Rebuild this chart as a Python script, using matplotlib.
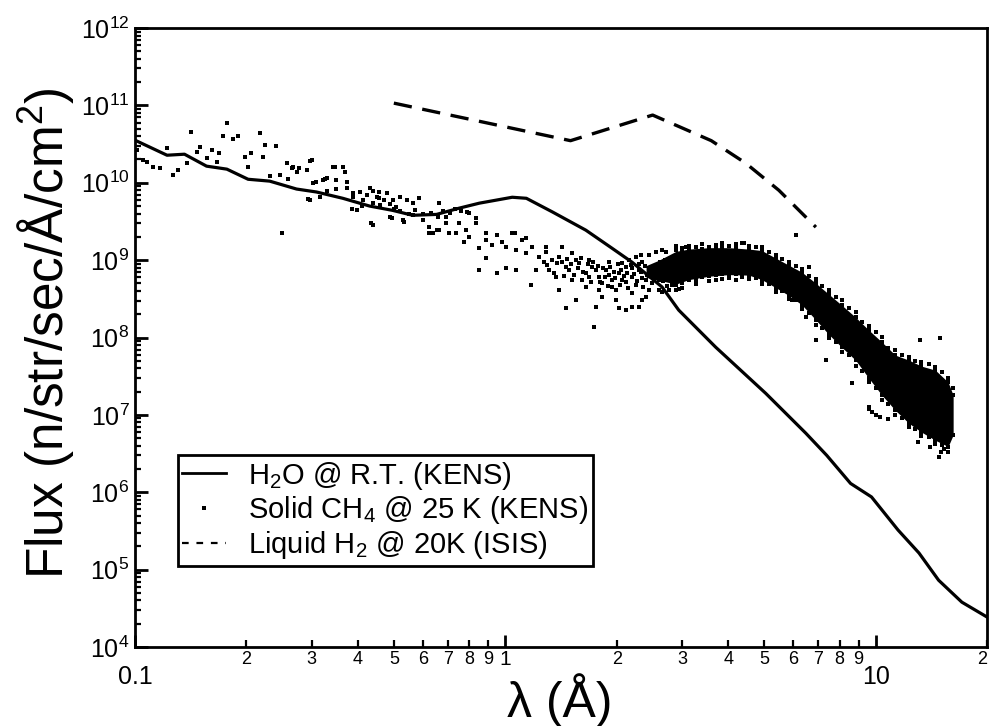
import matplotlib
matplotlib.use('Agg')
import matplotlib.pyplot as plt
from matplotlib.lines import Line2D

plt.rcParams['font.family'] = ['Liberation Sans', 'DejaVu Sans']
plt.rcParams['mathtext.fontset'] = 'custom'
plt.rcParams['mathtext.rm'] = 'Liberation Sans'
plt.rcParams['mathtext.it'] = 'Liberation Sans:italic'
plt.rcParams['mathtext.bf'] = 'Liberation Sans:bold'

# ---------------- data ----------------
# H2O @ room temperature (KENS), solid line
h2o_lambda = [0.1, 0.122, 0.136, 0.156, 0.177, 0.202, 0.231, 0.273, 0.309, 0.364, 0.43,
              0.496, 0.562, 0.652, 0.751, 0.851, 1.044, 1.14, 1.34, 1.65, 1.94, 2.20,
              2.65, 2.94, 3.70, 5.05, 6.48, 7.38, 8.56, 9.75, 11.5, 13.1, 14.8, 17.1, 20.0]
h2o_flux = [3.55e10, 2.27e10, 2.34e10, 1.64e10, 1.50e10, 1.11e10, 1.05e10, 8.3e9, 7.6e9,
            6.3e9, 5.0e9, 4.4e9, 3.8e9, 3.9e9, 4.7e9, 5.45e9, 6.5e9, 6.3e9, 4.2e9, 2.44e9,
            1.43e9, 9.4e8, 4.5e8, 2.26e8, 7.5e7, 1.9e7, 5.8e6, 3.0e6, 1.3e6, 8.7e5, 3.25e5,
            1.64e5, 7.3e4, 3.8e4, 2.44e4]

# Liquid H2 @ 20 K (ISIS), dashed line
h2_lambda = [0.5, 1.5, 2.5, 3.6, 4.46, 5.48, 6.9]
h2_flux = [1.07e11, 3.5e10, 7.5e10, 3.5e10, 1.79e10, 8.0e9, 2.67e9]

# Solid CH4 @ 25 K (KENS), dots: (wavelength [A], flux)
ch4_short = [
    (0.101, 2.64e10), (0.105, 1.96e10), (0.108, 1.85e10), (0.112, 1.59e10), (0.117, 1.54e10),
    (0.122, 2.80e10), (0.127, 1.25e10), (0.131, 1.46e10), (0.138, 1.79e10), (0.142, 4.51e10),
    (0.147, 2.48e10), (0.150, 2.88e10), (0.156, 2.08e10), (0.161, 2.64e10), (0.166, 1.85e10),
    (0.169, 2.41e10), (0.173, 4.00e10), (0.177, 5.89e10), (0.184, 3.66e10), (0.190, 4.00e10),
    (0.198, 2.14e10), (0.202, 1.59e10), (0.206, 2.41e10), (0.217, 4.38e10), (0.221, 2.14e10),
    (0.224, 3.06e10), (0.231, 1.22e10), (0.241, 2.97e10), (0.246, 1.25e10), (0.249, 2.23e9),
    (0.257, 1.79e10), (0.259, 1.11e10), (0.265, 1.54e10), (0.267, 1.59e10), (0.273, 1.37e10),
    (0.278, 1.54e10), (0.291, 1.46e10), (0.293, 6.14e9), (0.296, 1.90e10), (0.296, 5.96e9),
    (0.300, 1.96e10), (0.302, 9.88e9), (0.309, 1.02e10), (0.315, 6.52e9), (0.321, 1.08e10),
    (0.325, 1.11e10), (0.329, 1.15e10), (0.329, 7.9e9), (0.342, 1.59e10), (0.346, 1.59e10),
    (0.350, 1.08e10), (0.350, 8.2e9), (0.364, 1.59e10), (0.368, 1.37e10), (0.373, 1.02e10),
    (0.373, 8.5e9), (0.385, 4.6e9), (0.387, 6.52e9), (0.387, 7.3e9), (0.397, 4.43e9),
    (0.404, 7.56e9), (0.41, 5.0e9), (0.412, 5.96e9), (0.422, 6.9e9), (0.430, 8.52e9),
    (0.435, 3.01e9), (0.438, 7.9e9), (0.438, 2.85e9), (0.44, 5.5e9), (0.449, 6.52e9),
    (0.457, 7.56e9), (0.457, 6.33e9), (0.46, 5.2e9), (0.471, 5.96e9), (0.478, 7.3e9),
    (0.487, 3.59e9), (0.487, 5.3e9), (0.493, 3.49e9), (0.496, 5.96e9), (0.50, 4.6e9),
    (0.508, 4.84e9), (0.518, 6.5e9), (0.52, 4.3e9), (0.528, 3.29e9), (0.534, 3.10e9),
    (0.541, 5.96e9), (0.55, 4.0e9), (0.562, 5.45e9), (0.562, 3.81e9), (0.57, 4.4e9),
    (0.586, 6.33e9), (0.598, 3.29e9), (0.60, 3.9e9), (0.624, 2.67e9), (0.624, 2.23e9),
    (0.63, 4.1e9), (0.636, 2.23e9), (0.655, 2.44e9), (0.66, 3.6e9), (0.664, 5.45e9),
    (0.664, 2.44e9), (0.68, 4.3e9), (0.693, 3.01e9), (0.693, 3.59e9), (0.71, 4.1e9),
    (0.73, 4.6e9), (0.76, 4.3e9),
]
ch4_mid = [
    (0.706, 2.23e9), (0.738, 2.23e9), (0.751, 3.01e9), (0.775, 1.71e9), (0.785, 2.44e9),
    (0.79, 4.17e9), (0.800, 4.05e9), (0.800, 1.98e9), (0.835, 3.01e9), (0.835, 3.49e9),
    (0.851, 1.43e9), (0.851, 7.43e8), (0.889, 1.81e9), (0.889, 2.23e9), (0.889, 1.06e9),
    (0.923, 1.56e9), (0.952, 2.10e9), (0.952, 6.79e8), (0.981, 1.71e9), (1.006, 1.47e9),
    (1.006, 7.88e8), (1.044, 2.23e9), (1.06, 2.23e9), (1.071, 1.35e9), (1.071, 7.43e8),
    (1.111, 1.81e9), (1.139, 1.23e9), (1.139, 1.92e9), (1.175, 4.75e8), (1.182, 1.47e9),
    (1.212, 7.43e8), (1.235, 1.09e9), (1.27, 9.4e8), (1.29, 1.27e9), (1.29, 1.47e9),
    (1.30, 8.6e8), (1.314, 7.43e8), (1.339, 1.0e9), (1.35, 6.8e8), (1.372, 6.03e8),
    (1.38, 9.2e8), (1.398, 1.09e9), (1.398, 4.10e8), (1.424, 9.4e8), (1.424, 1.47e9),
    (1.44, 6.2e8), (1.460, 8.12e8), (1.460, 2.40e8), (1.47, 1.05e9), (1.488, 7.43e8),
    (1.50, 8.8e8), (1.516, 1.23e9), (1.516, 5.52e8), (1.53, 6.5e8), (1.554, 1.0e9),
    (1.554, 3.04e8), (1.57, 7.9e8), (1.583, 9.15e8), (1.60, 1.08e9), (1.613, 5.52e8),
    (1.62, 7.1e8), (1.653, 6.79e8), (1.653, 4.48e8), (1.67, 8.8e8), (1.684, 1.0e9),
    (1.684, 6.03e8), (1.70, 5.2e8), (1.716, 8.12e8), (1.73, 9.6e8), (1.738, 1.36e8),
    (1.759, 7.43e8), (1.759, 2.47e8), (1.78, 8.5e8), (1.792, 6.03e8), (1.792, 4.10e8),
    (1.80, 5.2e8), (1.826, 5.05e8), (1.826, 3.33e8), (1.84, 7.9e8), (1.86, 6.1e8),
    (1.872, 7.43e8), (1.89, 4.6e8), (1.907, 9.4e8), (1.907, 6.4e8), (1.92, 8.2e8),
    (1.943, 5.52e8), (1.943, 4.48e8), (1.96, 7.0e8), (1.98, 5.9e8), (1.992, 4.10e8),
    (1.992, 3.04e8), (2.01, 8.9e8), (2.029, 6.79e8), (2.04, 4.8e8), (2.05, 7.4e8),
    (2.068, 5.52e8), (2.068, 9.15e8), (2.09, 6.3e8), (2.119, 8.12e8), (2.119, 2.26e8),
    (2.119, 5.2e8), (2.13, 6.9e8), (2.15, 4.4e8), (2.159, 1.0e9), (2.18, 8.6e8),
    (2.200, 6.03e8), (2.200, 3.75e8), (2.200, 7.88e8), (2.23, 6.6e8), (2.255, 4.75e8),
    (2.255, 1.09e9), (2.27, 5.3e8), (2.29, 9.0e8), (2.297, 7.43e8), (2.297, 2.47e8),
    (2.32, 7.0e8), (2.340, 9.4e8), (2.340, 5.85e8), (2.36, 4.5e8), (2.38, 8.3e8),
    (2.400, 5.52e8), (2.400, 3.33e8), (2.42, 6.4e8), (2.445, 4.10e8), (2.445, 1.16e9),
    (2.47, 7.7e8), (2.491, 6.79e8), (2.491, 5.05e8), (2.52, 5.7e8), (2.553, 8.6e8),
    (2.553, 1.27e9), (2.57, 7.0e8), (2.601, 5.52e8), (2.601, 4.10e8), (2.62, 9.6e8),
    (2.650, 3.85e8), (2.650, 1.35e9), (2.67, 5.4e8), (2.70, 1.0e9), (2.716, 8.12e8),
    (2.716, 6.4e8), (2.74, 4.6e8), (2.767, 4.10e8), (2.79, 7.3e8), (2.819, 1.0e9),
    (2.819, 4.75e8), (2.85, 5.9e8), (2.91, 8.9e8), (2.944, 1.09e9), (2.95, 4.3e8),
]
ch4_upper_edge = [
    (2.89, 1.35e9), (2.89, 1.52e9), (3.0, 1.43e9), (3.0, 1.27e9), (3.13, 1.52e9), (3.13, 1.39e9),
    (3.27, 1.47e9), (3.40, 1.61e9), (3.40, 1.39e9), (3.55, 1.47e9), (3.70, 1.56e9), (3.70, 1.43e9),
    (3.85, 1.66e9), (3.85, 1.47e9), (4.02, 1.52e9), (4.20, 1.61e9), (4.20, 1.43e9), (4.35, 1.66e9),
    (4.55, 1.52e9), (4.55, 1.39e9), (4.75, 1.47e9), (4.93, 1.35e9), (4.93, 1.47e9), (5.15, 1.27e9),
    (5.38, 1.16e9), (5.38, 1.06e9), (5.58, 1.03e9), (5.83, 9.42e8), (5.83, 8.6e8), (6.09, 8.36e8),
    (6.32, 7.65e8), (6.32, 7.0e8), (6.60, 6.21e8), (6.89, 5.68e8), (6.89, 5.05e8), (7.15, 4.61e8),
    (7.47, 4.10e8), (7.47, 3.64e8), (7.80, 3.33e8), (8.10, 3.04e8), (8.10, 2.62e8), (8.46, 2.40e8),
    (8.83, 2.13e8), (8.83, 1.83e8), (9.17, 1.58e8), (9.58, 1.40e8), (9.58, 1.25e8), (10.0, 1.17e8),
    (10.4, 1.01e8), (10.4, 8.73e7), (10.8, 7.29e7), (11.3, 6.87e7), (11.3, 5.93e7), (11.8, 5.93e7),
    (12.3, 5.10e7), (12.3, 5.58e7), (12.8, 4.95e7), (13.3, 4.81e7), (13.3, 4.27e7), (13.9, 4.53e7),
    (14.5, 4.15e7), (14.5, 3.79e7), (15.1, 3.57e7), (15.7, 2.99e7), (15.7, 2.65e7), (16.2, 2.22e7),
    (16.2, 1.80e7),
]
ch4_lower_edge = [
    (2.89, 4.75e8), (2.89, 4.10e8), (3.0, 5.05e8), (3.0, 4.35e8), (3.13, 5.52e8), (3.27, 5.85e8),
    (3.27, 4.90e8), (3.40, 6.03e8), (3.55, 6.21e8), (3.55, 5.36e8), (3.70, 6.4e8), (3.85, 6.59e8),
    (3.85, 5.68e8), (4.02, 6.4e8), (4.20, 6.59e8), (4.20, 5.52e8), (4.35, 6.21e8), (4.55, 6.4e8),
    (4.55, 5.68e8), (4.75, 5.85e8), (4.93, 5.52e8), (4.93, 4.90e8), (5.15, 4.90e8), (5.38, 4.35e8),
    (5.38, 3.86e8), (5.58, 3.97e8), (5.83, 3.53e8), (5.83, 3.13e8), (6.09, 3.04e8), (6.32, 2.62e8),
    (6.32, 2.33e8), (6.60, 2.07e8), (6.89, 1.68e8), (6.89, 1.45e8), (7.15, 1.32e8), (7.47, 1.11e8),
    (7.47, 9.82e7), (7.80, 8.73e7), (8.10, 7.52e7), (8.10, 6.47e7), (8.46, 5.93e7), (8.83, 5.10e7),
    (8.83, 4.27e7), (9.17, 3.68e7), (9.58, 2.99e7), (9.58, 2.65e7), (10.0, 2.22e7), (10.4, 1.80e7),
    (10.4, 1.55e7), (10.8, 1.38e7), (11.3, 1.15e7), (11.3, 9.94e6), (11.8, 9.10e6), (12.3, 7.83e6),
    (12.3, 6.96e6), (12.8, 6.56e6), (13.3, 6.0e6), (13.3, 5.32e6), (13.9, 5.17e6), (14.5, 4.72e6),
    (14.5, 4.20e6), (15.1, 4.07e6), (15.7, 3.84e6), (15.7, 3.31e6), (16.2, 5.48e6),
]
ch4_outliers = [
    (6.09, 2.09e9), (6.6, 8.1e8), (14.9, 1.0e8), (13.2, 9.25e7), (7.33, 5.1e7), (6.9, 9.25e7),
    (8.62, 2.58e7), (9.58, 1.26e7), (9.76, 1.1e7), (14.8, 2.85e6), (2.03, 2.40e8), (2.2, 2.47e8),
    (2.34, 3.04e8), (2.89, 5.85e8), (3.27, 5.52e8), (3.7, 5.52e8), (4.02, 5.85e8), (4.35, 6.03e8),
    (5.94, 3.04e8), (6.48, 1.83e8), (3.08, 1.47e9), (4.4, 1.65e9), (4.93, 1.35e9), (2.72, 1.27e9),
    (2.32, 1.16e9), (9.6, 1.2e7), (10.0, 1.0e7), (10.3, 9.5e6), (10.8, 8.9e6), (13.0, 4.5e6),
    (14.0, 3.9e6), (15.0, 3.3e6), (15.3, 3.6e6),
]
# dense, saturated core of the CH4 cloud (envelope)
ch4_core_lambda = [2.4, 2.6, 2.89, 3.13, 3.55, 4.02, 4.55, 4.93, 5.38, 5.83, 6.32, 6.89, 7.47,
                   8.1, 8.83, 9.58, 10.4, 11.3, 12.3, 13.3, 14.5, 15.7, 16.2]
ch4_core_high = [8.5e8, 1.0e9, 1.3e9, 1.39e9, 1.45e9, 1.45e9, 1.39e9, 1.33e9, 1.06e9, 8.6e8,
                 7.0e8, 5.05e8, 3.64e8, 2.62e8, 1.83e8, 1.25e8, 8.73e7, 5.93e7, 5.1e7, 4.27e7,
                 3.79e7, 2.65e7, 1.8e7]
ch4_core_low = [6.0e8, 5.5e8, 4.9e8, 5.6e8, 6.2e8, 6.5e8, 6.4e8, 5.6e8, 4.4e8, 3.5e8, 2.65e8,
                1.7e8, 1.1e8, 7.5e7, 5.1e7, 3.0e7, 1.8e7, 1.15e7, 7.8e6, 6.0e6, 4.7e6, 3.9e6,
                5.5e6]

legend_labels = ['H$_2$O @ R.T. (KENS)', 'Solid CH$_4$ @ 25 K (KENS)', 'Liquid H$_2$ @ 20K (ISIS)']
x_major = [0.1, 1, 10]
x_major_labels = ['0.1', '', '10']
x_one_label = '1'
x_minor = [0.2, 0.3, 0.4, 0.5, 0.6, 0.7, 0.8, 0.9, 2, 3, 4, 5, 6, 7, 8, 9, 20]
x_minor_labels = ['2', '3', '4', '5', '6', '7', '8', '9', '2', '3', '4', '5', '6', '7', '8', '9', '2']
y_major = [1e4, 1e5, 1e6, 1e7, 1e8, 1e9, 1e10, 1e11, 1e12]
y_major_labels = ['$10^{4}$', '$10^{5}$', '$10^{6}$', '$10^{7}$', '$10^{8}$', '$10^{9}$',
                  '$10^{10}$', '$10^{11}$', '$10^{12}$']

# ---------------- figure ----------------
fig = plt.figure(figsize=(9.9, 7.26), dpi=100)
ax = fig.add_axes([0.1364, 0.1088, 0.8606, 0.8526])
ax.set_xscale('log')
ax.set_yscale('log')

ax.fill_between(ch4_core_lambda, ch4_core_low, ch4_core_high, color='black', lw=0)
all_ch4 = ch4_short + ch4_mid + ch4_upper_edge + ch4_lower_edge + ch4_outliers
ax.plot([p[0] for p in all_ch4], [p[1] for p in all_ch4], ls='none', marker='s',
        ms=2.3, mew=0, color='black')
ax.plot(h2o_lambda, h2o_flux, color='black', lw=2.3, solid_joinstyle='round')
ax.plot(h2_lambda, h2_flux, color='black', lw=2.4, dashes=(5.5, 3.2))

ax.set_xlim(0.1, 20)
ax.set_ylim(1e4, 1e12)

ax.set_xticks(x_major, x_major_labels)
ax.set_xticks(x_minor, x_minor_labels, minor=True)
ax.set_yticks(y_major, y_major_labels)
ax.tick_params(axis='x', which='major', direction='in', length=9, width=2, labelsize=18, pad=13)
ax.tick_params(axis='x', which='minor', direction='in', length=5, width=1.6, labelsize=13, pad=3)
ax.tick_params(axis='y', which='major', direction='in', length=9, width=2, labelsize=18, pad=4)
ax.tick_params(axis='y', which='minor', direction='in', length=4.5, width=1.6)
ax.xaxis.get_minorticklabels()[-1].set_horizontalalignment('right')
for s in ax.spines.values():
    s.set_linewidth(2)

# the "1" decade label sits at the height of the small minor labels
ax.annotate(x_one_label, xy=(1, 0), xycoords=('data', 'axes fraction'), xytext=(0, -2.5),
            textcoords='offset points', ha='center', va='top', fontsize=15)

handles = [Line2D([], [], color='black', lw=2.0),
           Line2D([], [], ls='none', marker='s', ms=2.5, mew=0, color='black'),
           Line2D([], [], color='black', lw=1.6, dashes=(3, 3.5))]
leg = ax.legend(handles, legend_labels, loc='upper left', bbox_to_anchor=(0.0505, 0.310),
                fontsize=21, frameon=True, fancybox=False, edgecolor='black', framealpha=1,
                borderpad=0.15, labelspacing=0.1, handlelength=1.5, handletextpad=0.75,
                borderaxespad=0)
leg.get_frame().set_linewidth(2)

fig.text(46 / 990, 1 - 333 / 726, 'Flux (n/str/sec/Å/cm$^2$)', rotation=90,
         ha='center', va='center', fontsize=37)
fig.text(560 / 990, 1 - 700 / 726, 'λ (Å)', ha='center', va='center', fontsize=36)

fig.savefig('out.png', dpi=100)
